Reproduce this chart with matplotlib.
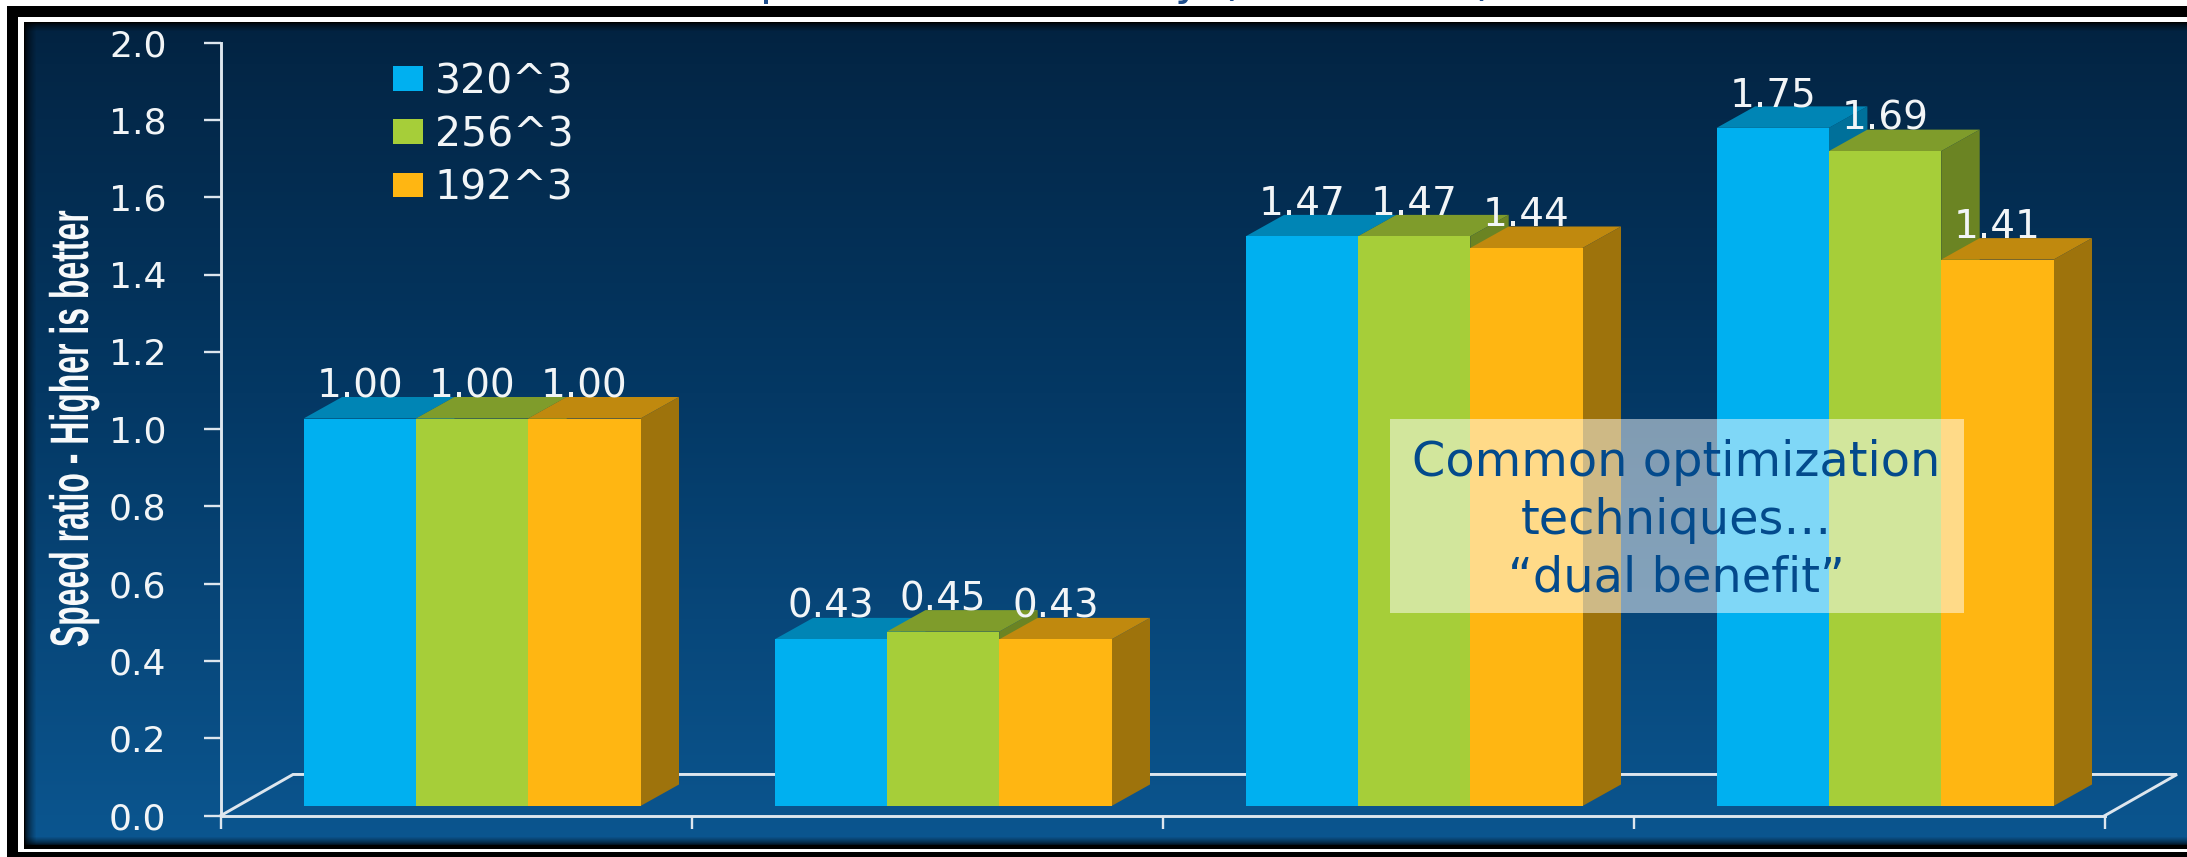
import numpy as np
import matplotlib
matplotlib.use("Agg")
import matplotlib.pyplot as plt
from matplotlib.patches import Rectangle, Polygon, Patch
from matplotlib.patheffects import AbstractPathEffect
from matplotlib.transforms import Affine2D

W, H = 2187, 857

# ---- data ----
series_names = ["320^3", "256^3", "192^3"]
values_320 = [1.00, 0.43, 1.47, 1.75]
values_256 = [1.00, 0.45, 1.47, 1.69]
values_192 = [1.00, 0.43, 1.44, 1.41]
y_ticks = [0.0, 0.2, 0.4, 0.6, 0.8, 1.0, 1.2, 1.4, 1.6, 1.8, 2.0]
category_edges = [0, 1, 2, 3, 4]
y_label = "Speed ratio - Higher is better"
callout_lines = ["Common optimization", "techniques…", "“dual benefit”"]

# ---- style ----
face = ["#00B0F0", "#A6CE39", "#FFB612"]
top = ["#0085B5", "#7F9C2B", "#C0890E"]
side = ["#00709A", "#6B8423", "#9E730C"]
line_col = "#DDE6EE"
text_col = "#F2F5F7"
callout_col = "#034A8C"


class Squeeze(AbstractPathEffect):
    """Scale a text's outline about a display point (the source font is condensed)."""

    def __init__(self, sx, sy, ox, oy):
        super().__init__()
        self.t = Affine2D().translate(-ox, -oy).scale(sx, sy).translate(ox, oy)

    def draw_path(self, renderer, gc, tpath, affine, rgbFace=None):
        renderer.draw_path(gc, tpath, affine + self.t, rgbFace)


fig = plt.figure(figsize=(W / 100, H / 100), dpi=100, facecolor="white")


def ax_px(x0, x1, y_top, y_bot, **kw):
    return fig.add_axes([x0 / W, 1 - y_bot / H, (x1 - x0) / W, (y_bot - y_top) / H], **kw)


# ---- frame and background ----
bg = fig.add_axes([0, 0, 1, 1], zorder=0)
bg.set_xlim(0, W)
bg.set_ylim(H, 0)
bg.axis("off")
bg.add_patch(Rectangle((7, 6), W, H, fc="black", ec="none", zorder=1))
bg.add_patch(Rectangle((18, 17), W, 835, fc="white", ec="none", zorder=2))
bg.add_patch(Rectangle((23.5, 21.5), W, 827.5, fc="black", ec="none", zorder=3))

px_left, px_top, px_bot = 24, 22, 846
ny = px_bot - px_top
nx = W - px_left
stops_y = [0, 0.05, 0.45, 1.0]
stops_c = np.array([[2, 34, 64], [3, 38, 70], [4, 56, 100], [11, 86, 144]], float)
yy = np.linspace(0, 1, ny)
grad = np.stack([np.interp(yy, stops_y, stops_c[:, i]) for i in range(3)], axis=1)
img = np.repeat(grad[:, None, :], nx, axis=1)
d_y = np.minimum(np.arange(ny), np.arange(ny)[::-1])
vy = np.clip(d_y / 9, 0, 1) ** 0.6
vx = np.clip(np.arange(nx) / 12, 0, 1) ** 0.6
img = img * vy[:, None, None] * vx[None, :, None]
bg.imshow(img.astype(np.uint8), extent=(px_left, W, px_bot, px_top), aspect="auto", zorder=4)
bg.set_xlim(0, W)
bg.set_ylim(H, 0)

# clipped title remnants at the very top
title_col = "#1F4E8C"
for frag, xf in [("p", 774), ("y", 1188), ("(", 1228), (")", 1484)]:
    bg.text(xf, -5, frag, color=title_col, fontsize=32, ha="center", va="baseline", zorder=0.5, clip_on=False)

# ---- axis layer ----
x0_px, x1_px = 221, 2105
ax = ax_px(x0_px, x1_px, 43, 815.5, zorder=1)
ax.patch.set_alpha(0)
ax.set_xlim(category_edges[0], category_edges[-1])
ax.set_ylim(0, 2)
for s in ("top", "right"):
    ax.spines[s].set_visible(False)
for s in ("left", "bottom"):
    ax.spines[s].set_color(line_col)
    ax.spines[s].set_linewidth(2.1)
ax.set_yticks(y_ticks)
ax.set_yticklabels([f"{v:.1f}" for v in y_ticks])
ax.set_xticks(category_edges)
ax.set_xticklabels([])
ax.tick_params(axis="y", length=12.2, width=1.7, color=line_col, labelcolor=text_col, labelsize=26, pad=27)
ax.tick_params(axis="x", length=9, width=1.7, color=line_col)

# 3-D floor outline
floor_dx = 72 / 471
floor_dy = 41 / 386
ax.plot([0, floor_dx, 4 + floor_dx, 4],
        [0, floor_dy, floor_dy, 0], color=line_col, lw=2.1, clip_on=False, solid_joinstyle="miter")

# y label: tall, condensed lettering
yl_x, yl_y = 88, 429
yl = fig.text(yl_x / W, 1 - yl_y / H, y_label, rotation=90, rotation_mode="anchor", ha="center", va="baseline",
              color="#F7F9FA", fontsize=39, fontweight="bold", family="Liberation Sans")
yl.set_path_effects([Squeeze(1.0, 0.59, yl_x, H - yl_y)])

# ---- bars layer (plotted on the chart's offset 3-D front plane) ----
bx = ax_px(x0_px, x1_px, 806 - 2 * 387.5, 806, zorder=2)
bx.patch.set_alpha(0)
bx.axis("off")
bx.set_xlim(category_edges[0], category_edges[-1])
bx.set_ylim(0, 2)

bar_w = 112.3 / 471
group_start = 82.6 / 471
depth_x = 38.5 / 471
depth_y = 21.5 / 387.5

all_series = [values_320, values_256, values_192]
for g in range(len(values_320)):
    left0 = g + group_start
    for i, vals in enumerate(all_series):
        v = vals[g]
        l = left0 + i * bar_w
        r = l + bar_w
        bx.add_patch(Polygon([(r, 0), (r + depth_x, depth_y), (r + depth_x, v + depth_y), (r, v)],
                             closed=True, fc=side[i], ec="none"))
        bx.add_patch(Polygon([(l, v), (l + depth_x, v + depth_y), (r + depth_x, v + depth_y), (r, v)],
                             closed=True, fc=top[i], ec="none"))
        bx.bar(l, v, width=bar_w, align="edge", color=face[i], linewidth=0)

for g in range(len(values_320)):
    left0 = g + group_start
    for i, vals in enumerate(all_series):
        v = vals[g]
        bx.text(left0 + (i + 0.5) * bar_w, v + depth_y, f"{v:.2f}", ha="center", va="baseline",
                color=text_col, fontsize=28, zorder=6)

# ---- legend ----
handles = [Patch(fc=c, ec="none", label=n) for c, n in zip(face, series_names)]
leg = fig.legend(handles=handles, loc="upper left", bbox_to_anchor=(393 / W, 1 - 62 / H),
                 borderaxespad=0, borderpad=0, frameon=False, fontsize=29.5, labelcolor=text_col,
                 handlelength=0.73, handleheight=0.54, handletextpad=0.29, labelspacing=0.32)
leg.set_zorder(5)

# ---- callout ----
ov = fig.add_axes([0, 0, 1, 1], zorder=4)
ov.set_xlim(0, W)
ov.set_ylim(H, 0)
ov.axis("off")
ov.patch.set_alpha(0)
ov.add_patch(Rectangle((1390, 419), 574, 194, fc="white", ec="none", alpha=0.5))
for line, yb in zip(callout_lines, [476, 534, 592]):
    ov.text(1676, yb, line, ha="center", va="baseline", color=callout_col, fontsize=34.5)

fig.savefig("out.png", dpi=100, facecolor="white")
